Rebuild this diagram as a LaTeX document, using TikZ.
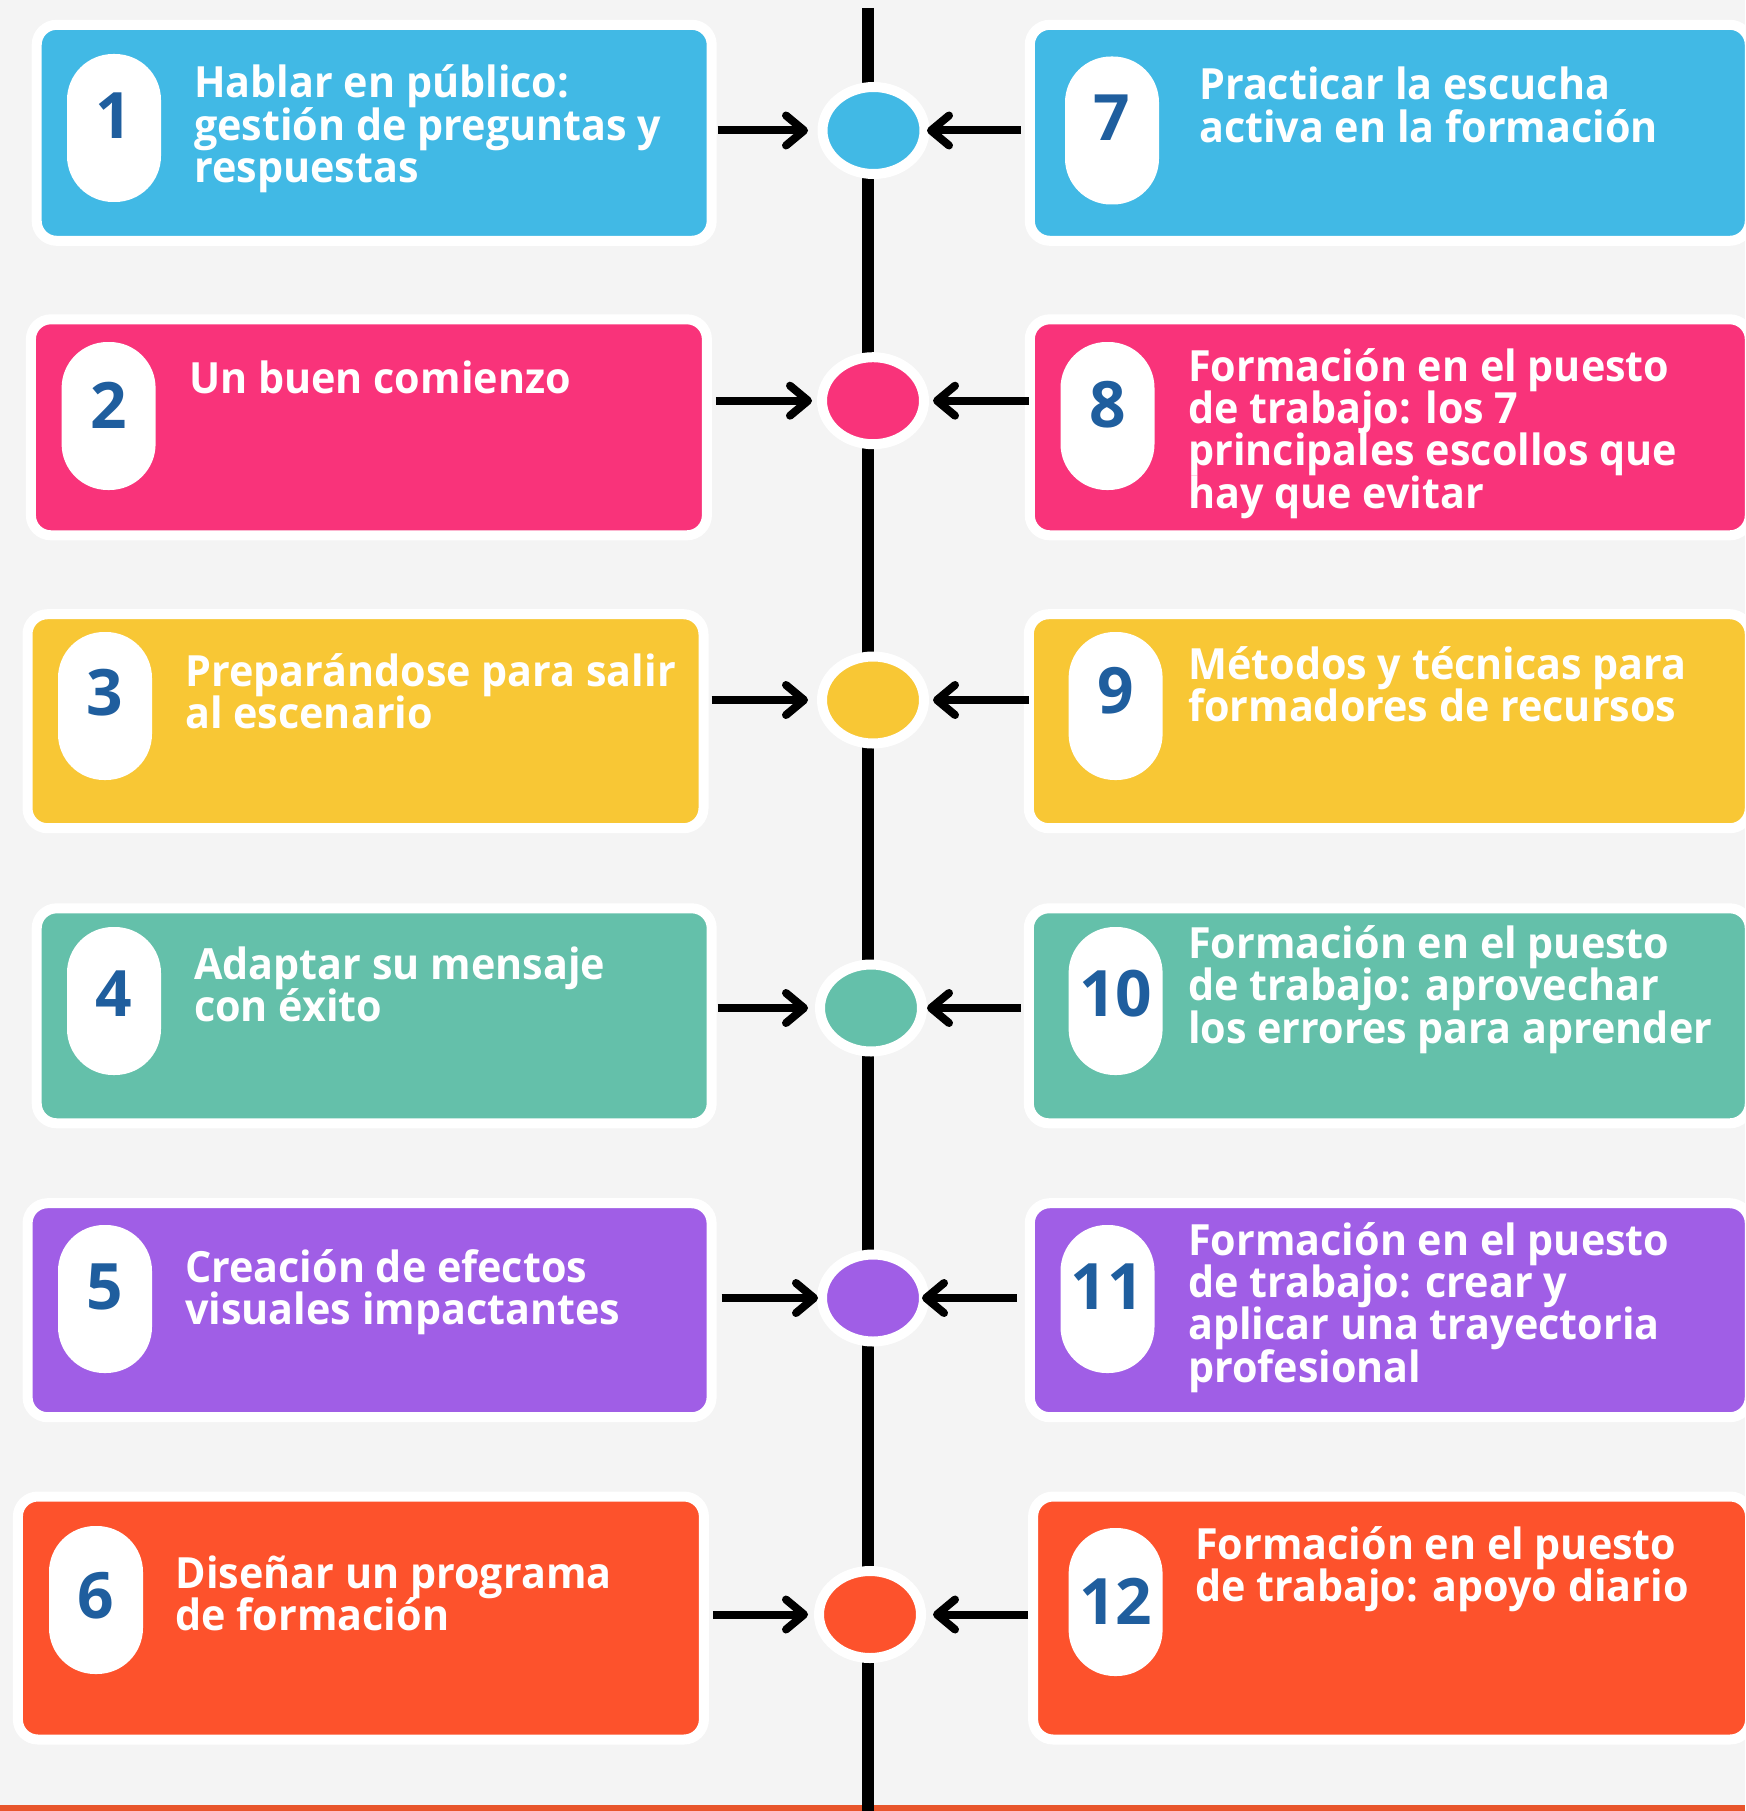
\documentclass[tikz,border=0pt]{standalone}
\usepackage{fontspec}
\setmainfont{Open Sans}
\newfontfamily\txtfont[FakeStretch=0.96]{Open Sans}
\usetikzlibrary{arrows.meta,shapes.geometric}
\definecolor{bgc}{HTML}{F4F4F4}
\definecolor{cblue}{HTML}{41B9E5}
\definecolor{cpink}{HTML}{F9337A}
\definecolor{cyellow}{HTML}{F8C735}
\definecolor{cteal}{HTML}{64C0AA}
\definecolor{cpurple}{HTML}{A05EE6}
\definecolor{corange}{HTML}{FD522C}
\definecolor{nblue}{HTML}{1F5E9E}
\definecolor{band}{HTML}{E8552B}
\newcommand\tlines[1]{\parbox[t]{600pt}{\raggedright\lineskiplimit=-100pt\lineskip=0pt #1}}
\tikzset{
  box/.style={draw=white, line width=10pt, rounded corners=20pt, inner sep=0pt},
  dot/.style={ellipse, draw=white, line width=10pt, minimum width=102pt, minimum height=87pt, inner sep=0pt},
  badge/.style={fill=white, rounded corners=46pt, minimum width=94pt, minimum height=148pt, inner sep=0pt},
  numtxt/.style={text=nblue, inner sep=0pt, font=\bfseries\fontsize{64}{64}\selectfont},
  txt/.style={anchor=base west, inner sep=0pt, text=white, font=\txtfont\bfseries\fontsize{43}{42.4}\selectfont},
  arr/.style={line width=8pt, -{Straight Barb[length=18pt,width=30pt,round]}},
  axis/.style={line width=12pt}
}
\begin{document}
\begin{tikzpicture}[x=1pt,y=-1pt]
\useasboundingbox (0,0) rectangle (1745,1811);
\fill[bgc] (0,0) rectangle (1745,1811);
\fill[band] (0,1805) rectangle (1745,1811);
% timeline
\coordinate (top) at (868,8);
\coordinate (bot) at (868,1811);
\draw[axis] (top) -- (bot);
% left boxes
\node[box, fill=cblue,   minimum width=675pt, minimum height=216pt] (b1) at (374.2,132.8) {};
\node[box, fill=cpink,   minimum width=676pt, minimum height=216pt] (b2) at (368.9,427.3) {};
\node[box, fill=cyellow, minimum width=676pt, minimum height=214pt] (b3) at (365.5,721.2) {};
\node[box, fill=cteal,   minimum width=675pt, minimum height=215pt] (b4) at (374.2,1015.8) {};
\node[box, fill=cpurple, minimum width=684pt, minimum height=214pt] (b5) at (369.6,1310.2) {};
\node[box, fill=corange, minimum width=686pt, minimum height=243pt] (b6) at (360.9,1618) {};
% right boxes
\node[box, fill=cblue,   minimum width=720pt, minimum height=216pt] (b7) at (1389.8,132.8) {};
\node[box, fill=cpink,   minimum width=720pt, minimum height=216pt] (b8) at (1389.8,427.3) {};
\node[box, fill=cyellow, minimum width=721pt, minimum height=214pt] (b9) at (1389.3,721.2) {};
\node[box, fill=cteal,   minimum width=721pt, minimum height=215pt] (b10) at (1389.3,1015.8) {};
\node[box, fill=cpurple, minimum width=720pt, minimum height=214pt] (b11) at (1389.8,1310.2) {};
\node[box, fill=corange, minimum width=717pt, minimum height=243pt] (b12) at (1391.6,1618) {};
% dots
\node[dot, fill=cblue]   (c1) at (873.5,130.5) {};
\node[dot, fill=cpink]   (c2) at (873,400.7) {};
\node[dot, fill=cyellow] (c3) at (873,700) {};
\node[dot, fill=cteal]   (c4) at (871,1008) {};
\node[dot, fill=cpurple] (c5) at (873,1298) {};
\node[dot, fill=corange] (c6) at (870,1614.5) {};
% arrows
\draw[arr] ([xshift=1pt]b1.east |- c1.center) -- ([xshift=-65.5pt]c1.center);
\draw[arr] ([xshift=-4pt]b7.west |- c1.center) -- ([xshift=53.5pt]c1.center);
\draw[arr] ([xshift=4pt]b2.east |- c2.center) -- ([xshift=-61pt]c2.center);
\draw[arr] ([xshift=4pt]b8.west |- c2.center) -- ([xshift=60pt]c2.center);
\draw[arr] ([xshift=3pt]b3.east |- c3.center) -- ([xshift=-65pt]c3.center);
\draw[arr] ([xshift=5pt]b9.west |- c3.center) -- ([xshift=60pt]c3.center);
\draw[arr] ([xshift=1pt]b4.east |- c4.center) -- ([xshift=-63pt]c4.center);
\draw[arr] ([xshift=-3pt]b10.west |- c4.center) -- ([xshift=56pt]c4.center);
\draw[arr] ([xshift=5pt]b5.east |- c5.center) -- ([xshift=-55pt]c5.center);
\draw[arr] ([xshift=-8pt]b11.west |- c5.center) -- ([xshift=49pt]c5.center);
\draw[arr] ([xshift=4pt]b6.east |- c6.center) -- ([xshift=-62pt]c6.center);
\draw[arr] ([xshift=0pt]b12.west |- c6.center) -- ([xshift=63pt]c6.center);
% badges
\node[badge] (p1) at (114,128) {};
\node[badge] (p2) at (108.6,416) {};
\node[badge] (p3) at (105,706) {};
\node[badge] (p4) at (114,1001) {};
\node[badge] (p5) at (105,1299) {};
\node[badge] (p6) at (96,1600) {};
\node[badge] (p7) at (1112,130.5) {};
\node[badge] (p8) at (1107.5,416) {};
\node[badge] (p9) at (1115.6,706) {};
\node[badge] (p10) at (1115.6,1001) {};
\node[badge] (p11) at (1107.5,1299) {};
\node[badge] (p12) at (1115.6,1602) {};
% numbers
\node[numtxt] (n1) at (114,115.5) {1};
\node[numtxt] (n2) at (108.6,405) {2};
\node[numtxt] (n3) at (105,693) {3};
\node[numtxt] (n4) at (114,994) {4};
\node[numtxt] (n5) at (105,1286.5) {5};
\node[numtxt] (n6) at (96,1596) {6};
\node[numtxt] (n7) at (1112,118) {7};
\node[numtxt] (n8) at (1107.5,405) {8};
\node[numtxt] (n9) at (1115.6,690.6) {9};
\node[numtxt] (n10) at (1115.6,994) {10};
\node[numtxt] (n11) at (1107.5,1286.5) {11};
\node[numtxt] (n12) at (1115.6,1601) {12};
% texts
\node[txt] (t1) at (194,98) {\tlines{Hablar en público:\\gestión de preguntas y\\respuestas}};
\node[txt] (t2) at (189,393) {\tlines{Un buen comienzo}};
\node[txt] (t3) at (185,686) {\tlines{Preparándose para salir\\al escenario}};
\node[txt] (t4) at (194,979) {\tlines{Adaptar su mensaje\\con éxito}};
\node[txt] (t5) at (185,1282) {\tlines{Creación de efectos\\visuales impactantes}};
\node[txt] (t6) at (175.5,1588) {\tlines{Diseñar un programa\\de formación}};
\node[txt] (t7) at (1199,100) {\tlines{Practicar la escucha\\activa en la formación}};
\node[txt] (t8) at (1188,381) {\tlines{Formación en el puesto\\de trabajo: los 7\\principales escollos que\\hay que evitar}};
\node[txt] (t9) at (1188,679) {\tlines{Métodos y técnicas para\\formadores de recursos}};
\node[txt] (t10) at (1188,958.5) {\tlines{Formación en el puesto\\de trabajo: aprovechar\\los errores para aprender}};
\node[txt] (t11) at (1188,1255) {\tlines{Formación en el puesto\\de trabajo: crear y\\aplicar una trayectoria\\profesional}};
\node[txt] (t12) at (1195,1559) {\tlines{Formación en el puesto\\de trabajo: apoyo diario}};
\end{tikzpicture}
\end{document}
